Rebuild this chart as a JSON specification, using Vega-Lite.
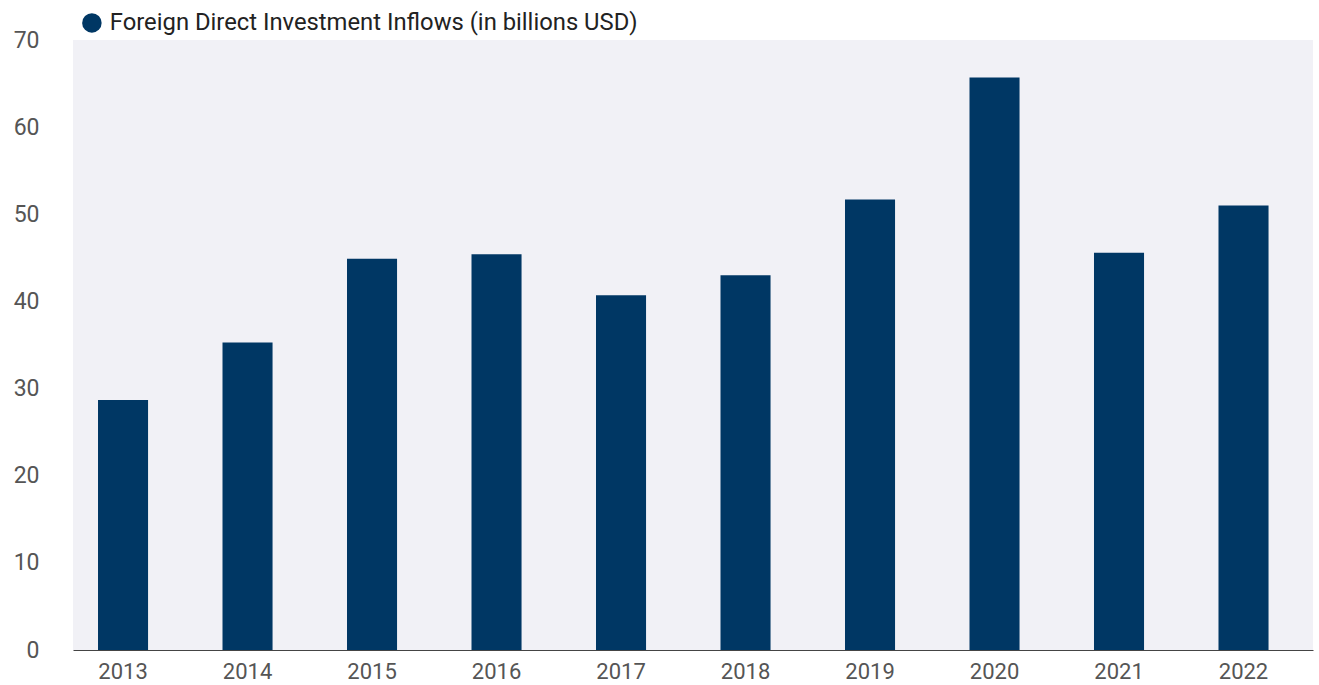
{
  "$schema": "https://vega.github.io/schema/vega-lite/v6.json",
  "width": 1240,
  "height": 610,
  "autosize": {"type": "none"},
  "padding": {"left": 73, "top": 40, "right": 6, "bottom": 35},
  "background": "#ffffff",
  "config": {
    "view": {"fill": "#f1f1f6", "stroke": null},
    "font": "Roboto"
  },
  "data": {
    "values": [
      {"year": "2013", "value": 28.7, "series": "Foreign Direct Investment Inflows (in billions USD)"},
      {"year": "2014", "value": 35.3, "series": "Foreign Direct Investment Inflows (in billions USD)"},
      {"year": "2015", "value": 44.9, "series": "Foreign Direct Investment Inflows (in billions USD)"},
      {"year": "2016", "value": 45.4, "series": "Foreign Direct Investment Inflows (in billions USD)"},
      {"year": "2017", "value": 40.7, "series": "Foreign Direct Investment Inflows (in billions USD)"},
      {"year": "2018", "value": 43.0, "series": "Foreign Direct Investment Inflows (in billions USD)"},
      {"year": "2019", "value": 51.7, "series": "Foreign Direct Investment Inflows (in billions USD)"},
      {"year": "2020", "value": 65.7, "series": "Foreign Direct Investment Inflows (in billions USD)"},
      {"year": "2021", "value": 45.6, "series": "Foreign Direct Investment Inflows (in billions USD)"},
      {"year": "2022", "value": 51.0, "series": "Foreign Direct Investment Inflows (in billions USD)"}
    ]
  },
  "mark": {"type": "bar"},
  "encoding": {
    "x": {
      "field": "year",
      "type": "ordinal",
      "scale": {"paddingInner": 0.598, "paddingOuter": 0.279, "align": 0.36},
      "axis": {
        "title": null,
        "labelAngle": 0,
        "ticks": false,
        "domain": true,
        "domainColor": "#444444",
        "domainWidth": 1,
        "labelFont": "Roboto",
        "labelFontSize": 22,
        "labelColor": "#555555",
        "labelPadding": 11
      }
    },
    "y": {
      "field": "value",
      "type": "quantitative",
      "scale": {"domain": [0, 70], "nice": false},
      "axis": {
        "title": null,
        "values": [0, 10, 20, 30, 40, 50, 60, 70],
        "ticks": false,
        "domain": false,
        "grid": false,
        "labelFont": "Roboto",
        "labelFontSize": 23,
        "labelColor": "#555555",
        "labelPadding": 34
      }
    },
    "color": {
      "field": "series",
      "type": "nominal",
      "scale": {"range": ["#003764"]},
      "legend": {
        "title": null,
        "orient": "none",
        "legendX": 7,
        "legendY": -29,
        "symbolType": "circle",
        "symbolSize": 380,
        "symbolStrokeWidth": 0,
        "labelFont": "Roboto",
        "labelFontSize": 23.8,
        "labelLimit": 0,
        "labelColor": "#222222",
        "labelOffset": 6,
        "padding": 0
      }
    }
  }
}
